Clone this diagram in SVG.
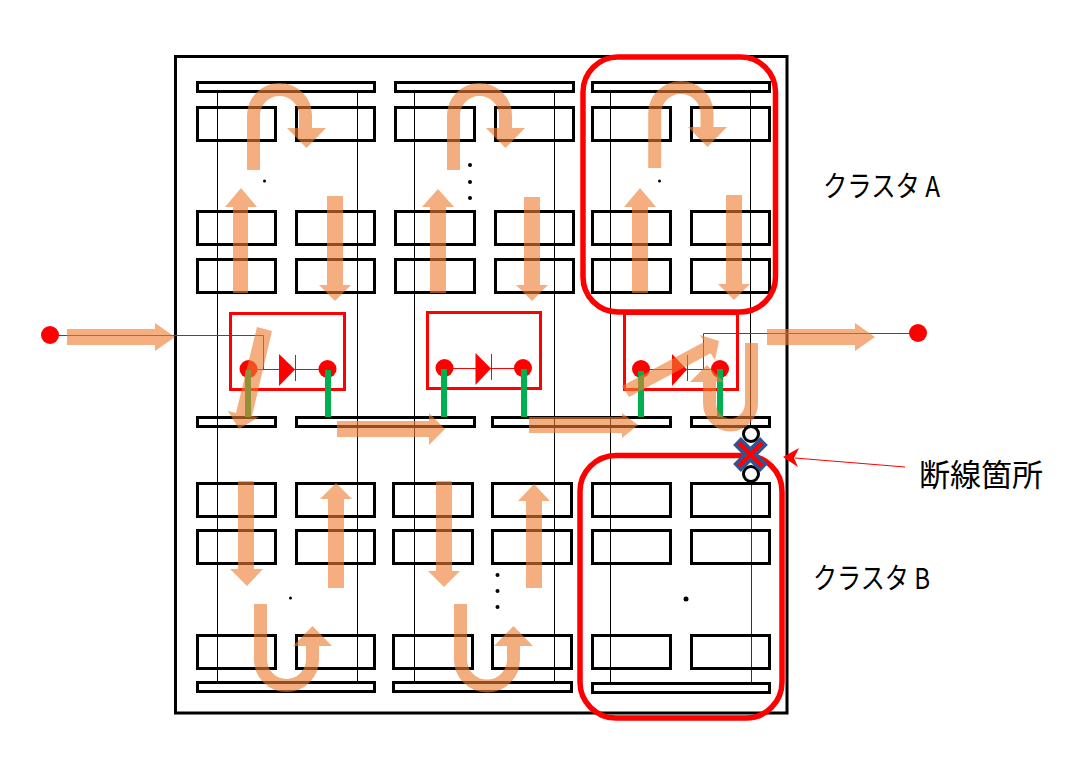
<svg xmlns="http://www.w3.org/2000/svg" width="1088" height="768" viewBox="0 0 1088 768">
<style>
.b{fill:none;stroke:#000;stroke-width:3}
.n{fill:none;stroke:#000;stroke-width:1}
.rb{fill:none;stroke:#f00;stroke-width:3}
.cl{fill:none;stroke:#f00;stroke-width:5.500}
.r{fill:none;stroke:#f00;stroke-width:1}
.rf{fill:#f00}
.g{stroke:#00b050;stroke-width:6;fill:none}
.d{fill:#000}
.a{fill:#ed7d31;opacity:.62}
.u{opacity:.62}
.u path{fill:none;stroke:#ed7d31;stroke-width:13}
.u polygon{fill:#ed7d31}
.t{font-family:"Noto Sans CJK JP","Noto Sans",sans-serif;font-size:29px;fill:#000}
</style>
<rect width="1088" height="768" fill="#fff"/>
<g id="frame"><rect class="b" x="175.500" y="56.500" width="611.500" height="656.500"/></g>

<g id="wires">
<path class="n" d="M217.500 92V682M357.500 92V682M414.500 92V682M554.500 92V682M610.500 92V682M750.500 92V425"/>
<path d="M751.500 483V682" fill="none" stroke="#333" stroke-width="1"/>
</g>

<g id="cluster-col1-top">
<rect class="b" x="197.500" y="82.500" width="177" height="9"/>
<rect class="b" x="197.500" y="107.500" width="78" height="33"/><rect class="b" x="296.500" y="107.500" width="78" height="33"/>
<rect class="b" x="197.500" y="211.500" width="78" height="33"/><rect class="b" x="296.500" y="211.500" width="78" height="33"/>
<rect class="b" x="197.500" y="259.500" width="78" height="33"/><rect class="b" x="296.500" y="259.500" width="78" height="33"/>
<circle class="d" cx="264.500" cy="181" r="1.500"/>
</g>
<g id="cluster-col2-top">
<rect class="b" x="395.500" y="82.500" width="178" height="9"/>
<rect class="b" x="395.500" y="107.500" width="79" height="33"/><rect class="b" x="495.500" y="107.500" width="78" height="33"/>
<rect class="b" x="395.500" y="211.500" width="79" height="33"/><rect class="b" x="495.500" y="211.500" width="78" height="33"/>
<rect class="b" x="395.500" y="259.500" width="79" height="33"/><rect class="b" x="495.500" y="259.500" width="78" height="33"/>
<circle class="d" cx="470" cy="165" r="2"/><circle class="d" cx="470" cy="182" r="2"/><circle class="d" cx="470" cy="198" r="2"/>
</g>
<g id="cluster-a">
<rect class="b" x="592.500" y="82.500" width="177" height="9"/>
<rect class="b" x="592.500" y="107.500" width="78" height="33"/><rect class="b" x="691.500" y="107.500" width="78" height="33"/>
<rect class="b" x="592.500" y="211.500" width="78" height="33"/><rect class="b" x="691.500" y="211.500" width="78" height="33"/>
<rect class="b" x="592.500" y="259.500" width="78" height="33"/><rect class="b" x="691.500" y="259.500" width="78" height="33"/>
<circle class="d" cx="659.500" cy="181" r="1.500"/>
</g>

<g id="mid-bars">
<rect class="b" x="197.500" y="417.500" width="78" height="9"/>
<rect class="b" x="296.500" y="417.500" width="178" height="9"/>
<rect class="b" x="492.500" y="417.500" width="178" height="9"/>
<rect class="b" x="691.500" y="417.500" width="78" height="9"/>
</g>

<g id="cluster-col1-bottom">
<rect class="b" x="197.500" y="483.500" width="78" height="33"/><rect class="b" x="296.500" y="483.500" width="78" height="33"/>
<rect class="b" x="197.500" y="530.500" width="78" height="33"/><rect class="b" x="296.500" y="530.500" width="78" height="33"/>
<rect class="b" x="197.500" y="635.500" width="78" height="33"/><rect class="b" x="296.500" y="635.500" width="78" height="33"/>
<rect class="b" x="197.500" y="682.500" width="177" height="9"/>
<circle class="d" cx="290.500" cy="598" r="1.500"/>
</g>
<g id="cluster-col2-bottom">
<rect class="b" x="393.500" y="483.500" width="79" height="33"/><rect class="b" x="492.500" y="483.500" width="79" height="33"/>
<rect class="b" x="393.500" y="530.500" width="79" height="33"/><rect class="b" x="492.500" y="530.500" width="79" height="33"/>
<rect class="b" x="393.500" y="635.500" width="79" height="33"/><rect class="b" x="492.500" y="635.500" width="79" height="33"/>
<rect class="b" x="393.500" y="682.500" width="178" height="9"/>
<circle class="d" cx="497.500" cy="575" r="2"/><circle class="d" cx="497.500" cy="591" r="2"/><circle class="d" cx="497.500" cy="607" r="2"/>
</g>
<g id="cluster-b">
<rect class="b" x="592.500" y="483.500" width="78" height="33"/><rect class="b" x="691.500" y="483.500" width="78" height="33"/>
<rect class="b" x="592.500" y="530.500" width="78" height="33"/><rect class="b" x="691.500" y="530.500" width="78" height="33"/>
<rect class="b" x="592.500" y="635.500" width="78" height="33"/><rect class="b" x="691.500" y="635.500" width="78" height="33"/>
<rect class="b" x="592.500" y="683.500" width="177" height="9"/>
<circle class="d" cx="686" cy="599" r="2.500"/>
</g>

<g id="terminal-left"><circle class="rf" cx="50" cy="335" r="9"/></g>
<g id="terminal-right"><circle class="rf" cx="918" cy="333" r="9"/></g>

<g id="module-1">
<rect class="rb" x="230.500" y="313.500" width="114" height="76"/>
<circle class="rf" cx="248.500" cy="369" r="9"/><circle class="rf" cx="327.500" cy="369" r="9"/>
<path class="r" d="M248 369.500H327M295.500 355V381"/><polygon class="rf" points="279,354 295,369.500 279,386"/>
<path class="g" d="M248 370V417M328 370V417"/>
</g>
<g id="module-2">
<rect class="rb" x="427.500" y="312.500" width="113" height="76"/>
<circle class="rf" cx="444.500" cy="368" r="9"/><circle class="rf" cx="523" cy="368" r="9"/>
<path class="r" d="M444 368.500H523M491.500 354V380"/><polygon class="rf" points="475.500,353 491,368.500 475.500,385"/>
<path class="g" d="M444 369V417M524 369V417"/>
</g>
<g id="module-3">
<rect class="rb" x="624.500" y="313.500" width="113" height="76"/>
<circle class="rf" cx="641" cy="369" r="9"/><circle class="rf" cx="720" cy="369" r="9"/>
<path class="r" d="M641 369.500H720M687.500 355V381"/><polygon class="rf" points="672,354 687,369.500 672,386"/>
<path class="g" d="M641 371V417M720 369V417"/>
</g>

<g id="connectors">
<path class="r" d="M50 335.500H263.500V370M918 333.500H703.500V369"/>
<path d="M905 467L795 458" stroke="#f00" stroke-width="1" fill="none"/>
<polygon class="rf" points="783,457 799,448 794,458 798,467"/>
<g id="flow">
<polygon class="a" points="67,329 155,329 155,323 175,337 155,351 155,345 67,345"/>
<polygon class="a" points="767,329 855,329 855,323 875,337 855,351 855,345 767,345"/>
<polygon class="a" points="337,421 429,421 429,413 445,429 429,445 429,437 337,437"/>
<polygon class="a" points="529,417 622,417 622,413 638,425 622,438 622,433 529,433"/>

<polygon class="a" points="233,293 233,207 225,207 241,188 257,207 248,207 248,293"/>
<polygon class="a" points="327,196 343,196 343,285 351,285 335,301 319,285 327,285"/>
<polygon class="a" points="430,293 430,207 422,207 438,189 454,207 446,207 446,293"/>
<polygon class="a" points="524,197 540,197 540,285 548,285 532,301 516,285 524,285"/>
<polygon class="a" points="632,293 632,207 624,207 640,188 656,207 648,207 648,293"/>
<polygon class="a" points="726,195 742,195 742,284 750,284 734,300 718,284 726,284"/>

<polygon class="a" points="238,481 254,481 254,569 263,569 247,586 230,569 238,569"/>
<polygon class="a" points="328,588 328,499 320,499 336,483 352,499 344,499 344,588"/>
<polygon class="a" points="436,481 452,481 452,571 460,571 444,587 428,571 436,571"/>
<polygon class="a" points="526,588 526,501 518,501 534,484 550,501 542,501 542,588"/>

<g class="u"><path d="M253.500 170V115.500A26 26 0 0 1 305.500 115.500V128"/><polygon points="287,128 326,128 306.500,148"/></g>
<g class="u"><path d="M453.500 170V115.500A26 26 0 0 1 505.500 115.500V128"/><polygon points="486,128 525,128 505.500,148"/></g>
<g class="u"><path d="M654.700 168V113.500A26.150 26 0 0 1 707 113.500V127"/><polygon points="688,127 727,127 707.500,147"/></g>
<g class="u"><path d="M260.500 604V659.500A26 26 0 0 0 312.500 659.500V646"/><polygon points="293,646 332,646 312.500,626"/></g>
<g class="u"><path d="M460.500 604V659.500A26 26 0 0 0 513.500 659.500V646"/><polygon points="494,646 533,646 513.500,626"/></g>
<g class="u"><path d="M751.500 343V403A21 22 0 0 1 709.500 403V382"/><polygon points="690,382 724,382 707,365"/></g>

<polygon class="a" points="257,327 272,331 252,416 259,417 239,429 228,411 236,413"/>
<polygon class="a" points="622,386 704.400,341.800 700,335 719,341 715,360 710.600,353.200 629,397"/>
</g>
</g>

<g id="cluster-outlines">
<rect class="cl" x="583" y="57" width="192.500" height="255" rx="35"/>
<rect class="cl" x="580" y="455.500" width="202" height="262.500" rx="36"/>
</g>

<g id="break-point">
<circle cx="751" cy="434" r="7.500" fill="#fff" stroke="#000" stroke-width="3"/>
<circle cx="751" cy="474" r="7.500" fill="#fff" stroke="#000" stroke-width="3"/>
<path d="M737 441L764 468M764 441L737 468" stroke="#2f5597" stroke-width="11" fill="none"/>
<path d="M739 443L762 466M762 443L739 466" stroke="#f00" stroke-width="4.500" fill="none"/>
</g>

<g id="labels">
<text class="t" x="823" y="197" textLength="117" lengthAdjust="spacingAndGlyphs">クラスタ A</text>
<text class="t" x="813" y="589" textLength="117" lengthAdjust="spacingAndGlyphs">クラスタ B</text>
<text class="t" x="919" y="486" style="font-size:31px">断線箇所</text>
</g>
</svg>
